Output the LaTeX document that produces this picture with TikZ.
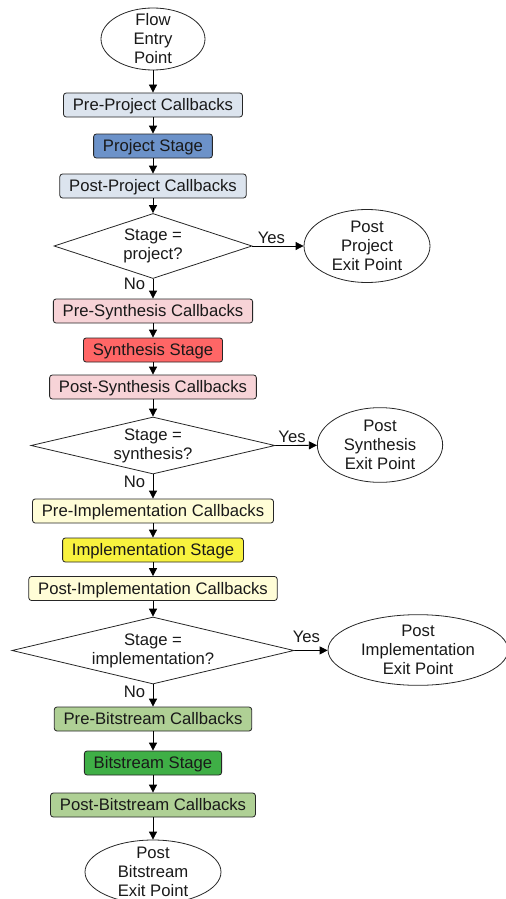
\documentclass[tikz,border=0pt]{standalone}
\usepackage{fontspec}
\setmainfont{Liberation Sans}
\usepackage{xcolor}
\usepackage{tikz}
\usetikzlibrary{shapes.geometric,arrows.meta}
\definecolor{prjlight}{HTML}{DCE4EE}
\definecolor{prjdark}{HTML}{6C92C9}
\definecolor{synlight}{HTML}{F7D3D7}
\definecolor{syndark}{HTML}{FF6666}
\definecolor{impllight}{HTML}{FFFDD7}
\definecolor{impldark}{HTML}{F8F23E}
\definecolor{bitlight}{HTML}{AFD095}
\definecolor{bitdark}{HTML}{3FAF46}

\tikzset{
  cbbox/.style={draw=black!85, rounded corners=2pt, inner xsep=7pt, inner ysep=0pt, minimum height=18pt, text height=9pt, text depth=0.5pt, text=black!90},
  endpoint/.style={draw=black!85, ellipse, inner sep=-6pt, align=center, text=black!90},
  decision/.style={draw=black!85, diamond, inner sep=-8pt, shape aspect=4, align=center, text=black!90},
  answer/.style={inner sep=1.5pt, text=black!90}
}

\begin{document}
\begin{tikzpicture}[x=0.75pt, y=-0.75pt, line width=0.6pt, font=\fontsize{12.5}{14.25}\selectfont, >={Triangle[length=6pt,width=6pt]}]
\useasboundingbox (0,0) rectangle (506,899);

\node[endpoint, minimum width=78pt, minimum height=46.5pt] (entry) at (153,39) {Flow\\Entry\\Point};

\node[cbbox, fill=prjlight] (pre1) at (153,105) {Pre-Project Callbacks};
\node[cbbox, fill=prjdark] (prj) at (153,146) {Project Stage};
\node[cbbox, fill=prjlight] (post1) at (153,186) {Post-Project Callbacks};
\node[decision, minimum width=148.5pt, minimum height=48.75pt] (d1) at (153,246) {Stage =\\project?};
\node[endpoint, minimum width=94.5pt, minimum height=54.75pt] (exit1) at (367,246) {Post\\Project\\Exit Point};

\node[cbbox, fill=synlight] (pre2) at (153,311) {Pre-Synthesis Callbacks};
\node[cbbox, fill=syndark] (syn) at (153,350) {Synthesis Stage};
\node[cbbox, fill=synlight] (post2) at (153,387) {Post-Synthesis Callbacks};
\node[decision, minimum width=183pt, minimum height=42.75pt] (d2) at (153,445.5) {Stage =\\synthesis?};
\node[endpoint, minimum width=94pt, minimum height=56pt] (exit2) at (380,445) {Post\\Synthesis\\Exit Point};

\node[cbbox, fill=impllight] (pre3) at (153,511) {Pre-Implementation Callbacks};
\node[cbbox, fill=impldark] (impl) at (153,550) {Implementation Stage};
\node[cbbox, fill=impllight] (post3) at (153,588.5) {Post-Implementation Callbacks};
\node[decision, minimum width=211.5pt, minimum height=50.25pt] (d3) at (153,650.5) {Stage =\\implementation?};
\node[endpoint, minimum width=135pt, minimum height=53pt] (exit3) at (418,650) {Post\\Implementation\\Exit Point};

\node[cbbox, fill=bitlight] (pre4) at (153,719) {Pre-Bitstream Callbacks};
\node[cbbox, fill=bitdark] (bit) at (153,763) {Bitstream Stage};
\node[cbbox, fill=bitlight] (post4) at (153,805) {Post-Bitstream Callbacks};
\node[endpoint, minimum width=102pt, minimum height=48pt] (exit4) at (153,872) {Post\\Bitstream\\Exit Point};

\foreach \a/\b in {entry/pre1, pre1/prj, prj/post1, post1/d1, pre2/syn, syn/post2, post2/d2,
                   pre3/impl, impl/post3, post3/d3, pre4/bit, bit/post4, post4/exit4}
  \draw[->] (\a) -- (\b);

\draw[->] (d1.east) -- node[answer, above, pos=0.37] {Yes} (exit1);
\draw[->] (d2.east) -- node[answer, above, pos=0.4] {Yes} (exit2);
\draw[->] (d3.east) -- node[answer, above=4pt, pos=0.36] {Yes} (exit3);
\draw[->] (d1.south) -- node[answer, left=4pt, pos=0.25] {No} (pre2);
\draw[->] (d2.south) -- node[answer, left=4pt, pos=0.32] {No} (pre3);
\draw[->] (d3.south) -- node[answer, left=4pt, pos=0.35] {No} (pre4);
\end{tikzpicture}
\end{document}
